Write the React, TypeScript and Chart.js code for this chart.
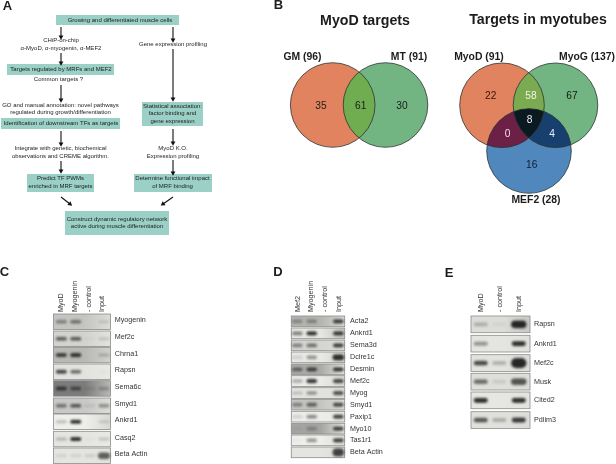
import React, { useEffect, useRef } from "react";
import { Chart, registerables } from "chart.js";
Chart.register(...registerables);

const FONT = '"Liberation Sans", Arial, sans-serif';
const INK = "#1c1c1c";

// ---- Panel C data
const cGenes = ["Myogenin", "Mef2c", "Chrna1", "Rapsn", "Sema6c", "Smyd1", "Ankrd1", "Casq2", "Beta Actin"];
const cLanes = ["MyoD", "Myogenin", "- control", "Input"];
const cBands = [
  [0.45, 0.55, 0, 0.12],
  [0.7, 0.72, 0.03, 0.14],
  [0.82, 0.95, 0, 0.22],
  [0.8, 0.65, 0, 0.03],
  [0.8, 0.7, 0.12, 0.3],
  [0.55, 0.72, 0.1, 0.42],
  [0.25, 0.9, 0, 0.14],
  [0.25, 0.92, 0.03, 0.18],
  [0.1, 0.1, 0.12, 0.7],
];
// ---- Panel D data
const dGenes = ["Acta2", "Ankrd1", "Sema3d", "Dclre1c", "Desmin", "Mef2c", "Myog", "Smyd1", "Paxip1", "Myo10", "Tas1r1", "Beta Actin"];
const dLanes = ["Mef2", "Myogenin", "- control", "Input"];
const dBands = [
  [0.35, 0.4, 0, 0.85],
  [0.55, 0.95, 0, 0.9],
  [0.5, 0.6, 0, 0.85],
  [0.15, 0.45, 0, 0.95],
  [0.6, 0.8, 0, 0.9],
  [0.3, 0.95, 0, 0.85],
  [0.2, 0.42, 0, 0.8],
  [0.45, 0.62, 0, 0.8],
  [0.15, 0.5, 0, 0.85],
  [0.05, 0.3, 0, 0.85],
  [0.03, 0.45, 0, 0.85],
  [0, 0, 0, 0.85],
];
// ---- Panel E data
const eGenes = ["Rapsn", "Ankrd1", "Mef2c", "Musk", "Cited2", "Pdlim3"];
const eLanes = ["MyoD", "- control", "Input"];
const eBands = [
  [0.25, 0.05, 1],
  [0.42, 0, 0.92],
  [0.82, 0.25, 1],
  [0.62, 0.12, 0.75],
  [0.92, 0, 0.92],
  [0.75, 0.28, 0.88],
];
// ---- Venn data
const vennCircles = [
  { label: "GM (96)", color: "#e2835f" },
  { label: "MT (91)", color: "#72b482" },
  { label: "MyoD (91)", color: "#e2835f" },
  { label: "MyoG (137)", color: "#72b482" },
  { label: "MEF2 (28)", color: "#5088bd" },
];
const vennCounts = ["35", "61", "30", "22", "58", "67", "8", "0", "4", "16"];

// ---- Layout, kept apart from the data
const circleGeom = [
  [332.7, 105],
  [385.5, 105],
  [502, 105.3],
  [555.5, 105.3],
  [529, 151],
];
const circleRadius = 42.3;
const labelGeom = [
  [302.5, 57],
  [409, 57],
  [479, 57.5],
  [587, 57],
  [536, 200],
];
const countGeom = [
  [321, 106, INK],
  [360.7, 106, INK],
  [402, 106, INK],
  [490.7, 96, "#3a1208"],
  [531, 96, "#f2f4e8"],
  [572, 96, "#0e1a10"],
  [529.7, 120, "#e8eef2"],
  [507.7, 134, "#f2e0ea"],
  [552, 134.5, "#e4f0fa"],
  [531.7, 165, "#0e1c34"],
];
const gels = [
  {
    genes: cGenes, lanes: cLanes, bands: cBands, x0: 53.5, x1: 110.5,
    laneX: [61.3, 75.7, 90, 104], bandW: 11, bandH: 3.4, labelX: 114.7, labelDy: -1.4, headBottom: 312, headX: [61, 75, 89, 102.5],
    tops: [314, 331, 347.3, 364, 380.7, 398, 414, 431.3, 448], h: 15.5,
    tones: [["#c4c4c0", "#dcdcd8"], ["#d2d2ce", "#e2e2de"], ["#b8b8b4", "#d0d0cc"], ["#e2e2de", "#e8e8e4"], ["#7c7c7c", "#b8b8b4"], ["#c8c8c6", "#dcdcd8"], ["#eeeeea", "#d8d8d4"], ["#e4e4e0", "#e8e8e4"], ["#e4e4e0", "#e2e2de"]],
  },
  {
    genes: dGenes, lanes: dLanes, bands: dBands, x0: 291.3, x1: 344.7,
    laneX: [297.3, 311.7, 325, 338.3], bandW: 10.5, bandH: 3.6, labelX: 350, labelDy: 0, headBottom: 312, headX: [298, 311, 325, 339],
    tops: [316, 328, 340, 352, 364, 375.7, 387.7, 399.3, 411.3, 423.3, 435, 447], h: 10.7,
    tones: [["#b4b4b0", "#d8d8d4"], ["#e6e6e2", "#c4c4c0"], ["#d4d4d0", "#dcdcd8"], ["#e8e8e4", "#d4d4d0"], ["#aaaaa8", "#e2e2de"], ["#eaeae6", "#d8d8d4"], ["#e2e2de", "#e0e0dc"], ["#c4c4c0", "#dcdcd8"], ["#ececE8", "#e6e6e2"], ["#a4a4a2", "#e2e2de"], ["#eeeeea", "#dcdcd8"], ["#e4e4e0", "#dcdcd8"]],
  },
  {
    genes: eGenes, lanes: eLanes, bands: eBands, x0: 471, x1: 530,
    laneX: [480.7, 499.3, 518.7], bandW: 14, bandH: 4.2, labelX: 534, labelDy: 0, headBottom: 312, headX: [481, 500, 519],
    tops: [316, 335.3, 354.7, 373.3, 392, 411.7], h: 16.7,
    tones: [["#dcdcd8", "#c8c8c4"], ["#e4e4e0", "#e0e0dc"], ["#e2e2de", "#dcdcd8"], ["#dededa", "#dcdcd8"], ["#e6e6e2", "#e2e2de"], ["#e0e0dc", "#dcdcd8"]],
  },
];
// gel index, row, lane, thickness factor
const thickBands = [
  [0, 8, 3, 1.8],
  [1, 3, 3, 1.4],
  [1, 11, 3, 1.9],
  [2, 0, 2, 1.5],
  [2, 2, 2, 2.0],
  [2, 3, 2, 1.4],
];
const flowBoxes = [
  [56, 15, 179, 25],
  [7, 64, 114, 75],
  [1, 118, 120, 129],
  [27, 174, 94, 192],
  [142, 102, 203, 126],
  [134, 174, 212, 192],
  [65, 211, 169, 235],
];
const flowTexts: [string, number, number][] = [
  ["Growing and differentiated muscle cells", 120, 20],
  ["CHiP-on-chip", 61, 40.7],
  ["\u03b1-MyoD, \u03b1-myogenin, \u03b1-MEF2", 61, 48],
  ["Targets regulated by MRFs and MEF2", 61, 69.5],
  ["Common targets ?", 58.5, 79.5],
  ["GO and manual annotation: novel pathways", 60.5, 105],
  ["regulated during growth/differentiation", 60.5, 112.5],
  ["Identification of downstream TFs as targets", 61, 123],
  ["Integrate with genetic, biochemical", 60.5, 148.5],
  ["observations and CREME algorithm.", 60.5, 156],
  ["Predict TF PWMs", 60.5, 178.5],
  ["enriched in MRF targets", 60.5, 186],
  ["Gene expression profiling", 173, 44.5],
  ["Statistical association:", 172.5, 106.5],
  ["factor binding and", 172.5, 113.5],
  ["gene expression", 172.5, 121],
  ["MyoD K.O.", 173, 148.5],
  ["Expression profiling", 173, 156],
  ["Determine functional impact", 172.5, 178.5],
  ["of MRF binding", 172.5, 186],
  ["Construct dynamic regulatory network", 117, 219],
  ["active during muscle differentiation", 117, 226.5],
];
const flowArrows = [
  [61, 27, 61, 37],
  [61, 53, 61, 63],
  [61, 85, 61, 100],
  [61, 131, 61, 144],
  [61, 161, 61, 171],
  [61, 197, 70, 204],
  [173, 27, 173, 40],
  [173, 49, 173, 99],
  [173, 129, 173, 143],
  [173, 160, 173, 173],
  [173, 197, 163, 204],
];
const panelLetters: [string, number, number][] = [
  ["A", 7.5, 6],
  ["B", 278.5, 5.5],
  ["C", 4.5, 272],
  ["D", 278, 272],
  ["E", 449, 273],
];
const titles: [string, number, number][] = [
  ["MyoD targets", 365, 21],
  ["Targets in myotubes", 538, 20],
];
// circle indexes of each overlap and its fill
const overlaps: [number[], string][] = [
  [[0, 1], "#70ac50"],
  [[2, 3], "#7bab50"],
  [[2, 4], "#6c2045"],
  [[3, 4], "#17406e"],
  [[2, 3, 4], "#0b1a20"],
];

function bandSprite(w: number, h: number, v: number) {
  const c = document.createElement("canvas");
  c.width = Math.ceil(w + 8);
  c.height = Math.ceil(h + 8);
  const g = c.getContext("2d")!;
  g.filter = "blur(0.8px)";
  g.fillStyle = `rgba(38,38,38,${Math.min(1, v)})`;
  g.beginPath();
  g.roundRect((c.width - w) / 2, (c.height - h) / 2, w, h, h / 2);
  g.fill();
  return c;
}

function thick(g: number, r: number, l: number) {
  const t = thickBands.find((b) => b[0] === g && b[1] === r && b[2] === l);
  return t ? t[3] : 1;
}

const datasets: any[] = [];
// Venn circles
vennCircles.forEach((c, i) => {
  datasets.push({
    type: "bubble",
    label: c.label,
    data: [{ x: circleGeom[i][0], y: circleGeom[i][1], r: circleRadius }],
    backgroundColor: c.color,
    borderColor: "rgba(0,0,0,0)",
    borderWidth: 0,
    order: 10 - i,
    clip: false,
  });
});
// Gel bands
gels.forEach((gel, gi) => {
  const pts: any[] = [];
  const styles: any[] = [];
  gel.bands.forEach((row, r) => {
    row.forEach((v, l) => {
      if (v <= 0) return;
      const k = thick(gi, r, l);
      pts.push({ x: gel.laneX[l], y: gel.tops[r] + gel.h / 2 });
      styles.push(bandSprite(gel.bandW * (k > 1 ? 1.1 : 1), gel.bandH * k * (0.8 + 0.4 * v), v));
    });
  });
  datasets.push({
    type: "scatter",
    label: "gel" + gi,
    data: pts,
    pointStyle: styles,
    pointRadius: 3,
    showLine: false,
    order: 1,
    clip: false,
  });
});
// Arrows
flowArrows.forEach((a, i) => {
  const angle = (Math.atan2(a[2] - a[0], -(a[3] - a[1])) * 180) / Math.PI;
  datasets.push({
    type: "scatter",
    label: "arrow" + i,
    data: [{ x: a[0], y: a[1] }, { x: a[2], y: a[3] }],
    showLine: true,
    borderColor: "#111",
    borderWidth: 1.1,
    backgroundColor: "#111",
    pointStyle: "triangle",
    pointRadius: [0, 2.8],
    pointBorderWidth: 0,
    pointRotation: angle,
    order: 1,
    clip: false,
  });
});

const artPlugin = {
  id: "art",
  beforeDatasetsDraw(chart: any) {
    const { ctx, scales } = chart;
    const X = (v: number) => scales.x.getPixelForValue(v);
    const Y = (v: number) => scales.y.getPixelForValue(v);
    ctx.save();
    ctx.fillStyle = "#9ad0c6";
    flowBoxes.forEach((b) => ctx.fillRect(X(b[0]), Y(b[1]), X(b[2]) - X(b[0]), Y(b[3]) - Y(b[1])));
    gels.forEach((gel) => {
      gel.tops.forEach((t, r) => {
        const grad = ctx.createLinearGradient(X(gel.x0), 0, X(gel.x1), 0);
        grad.addColorStop(0, gel.tones[r][0]);
        grad.addColorStop(0.55, gel.tones[r][0]);
        grad.addColorStop(1, gel.tones[r][1]);
        ctx.fillStyle = grad;
        ctx.fillRect(X(gel.x0), Y(t), X(gel.x1) - X(gel.x0), gel.h);
        ctx.strokeStyle = "#8c8c8c";
        ctx.lineWidth = 0.8;
        ctx.strokeRect(X(gel.x0), Y(t), X(gel.x1) - X(gel.x0), gel.h);
      });
    });
    ctx.restore();
  },
  afterDatasetsDraw(chart: any) {
    const { ctx, scales } = chart;
    const X = (v: number) => scales.x.getPixelForValue(v);
    const Y = (v: number) => scales.y.getPixelForValue(v);
    const circle = (i: number) => {
      ctx.beginPath();
      ctx.arc(X(circleGeom[i][0]), Y(circleGeom[i][1]), circleRadius, 0, Math.PI * 2);
    };
    overlaps.forEach(([ids, col]) => {
      ctx.save();
      ids.forEach((i) => {
        circle(i);
        ctx.clip();
      });
      ctx.fillStyle = col;
      ctx.fillRect(0, 0, 616, 464);
      ctx.restore();
    });
    ctx.save();
    ctx.strokeStyle = "#2c3430";
    ctx.lineWidth = 0.8;
    circleGeom.forEach((_, i) => {
      circle(i);
      ctx.stroke();
    });
    ctx.restore();

    ctx.save();
    ctx.textBaseline = "middle";
    ctx.textAlign = "center";
    ctx.fillStyle = INK;
    ctx.filter = "blur(0.3px)";
    ctx.font = `6px ${FONT}`;
    flowTexts.forEach(([t, x, y]) => ctx.fillText(t, X(x), Y(y)));
    ctx.font = `bold 14.2px ${FONT}`;
    titles.forEach(([t, x, y]) => ctx.fillText(t, X(x), Y(y)));
    ctx.font = `bold 13px ${FONT}`;
    panelLetters.forEach(([t, x, y]) => ctx.fillText(t, X(x), Y(y)));
    ctx.font = `bold 10.4px ${FONT}`;
    vennCircles.forEach((c, i) => ctx.fillText(c.label, X(labelGeom[i][0]), Y(labelGeom[i][1])));
    ctx.font = `10.2px ${FONT}`;
    vennCounts.forEach((t, i) => {
      ctx.fillStyle = countGeom[i][2] as string;
      ctx.fillText(t, X(countGeom[i][0] as number), Y(countGeom[i][1] as number));
    });
    ctx.fillStyle = "#333";
    ctx.font = `7.2px ${FONT}`;
    ctx.textAlign = "left";
    gels.forEach((gel) => {
      gel.genes.forEach((g, r) => {
        ctx.fillText(g, X(gel.labelX), Y(gel.tops[r] + gel.h / 2 + gel.labelDy));
      });
      gel.lanes.forEach((l, i) => {
        ctx.save();
        ctx.translate(X(gel.headX[i]), Y(gel.headBottom));
        ctx.rotate(-Math.PI / 2);
        ctx.fillText(l, 0, 0);
        ctx.restore();
      });
    });
    ctx.restore();
  },
};

export default function App() {
  const ref = useRef<HTMLCanvasElement | null>(null);
  useEffect(() => {
    const chart = new Chart(ref.current!, {
      type: "scatter",
      data: { datasets },
      plugins: [artPlugin],
      options: {
        responsive: false,
        animation: false,
        layout: { padding: 0, autoPadding: false },
        plugins: { legend: { display: false }, tooltip: { enabled: false }, title: { display: false } },
        scales: {
          x: { type: "linear", min: 0, max: 616, display: false },
          y: { type: "linear", min: 0, max: 464, reverse: true, display: false },
        },
      },
    } as any);
    return () => chart.destroy();
  }, []);
  return (
    <div style={{ position: "fixed", left: 0, top: 0, width: 616, height: 464, background: "#fff" }}>
      <canvas ref={ref} width={616} height={464} style={{ display: "block" }} />
    </div>
  );
}
